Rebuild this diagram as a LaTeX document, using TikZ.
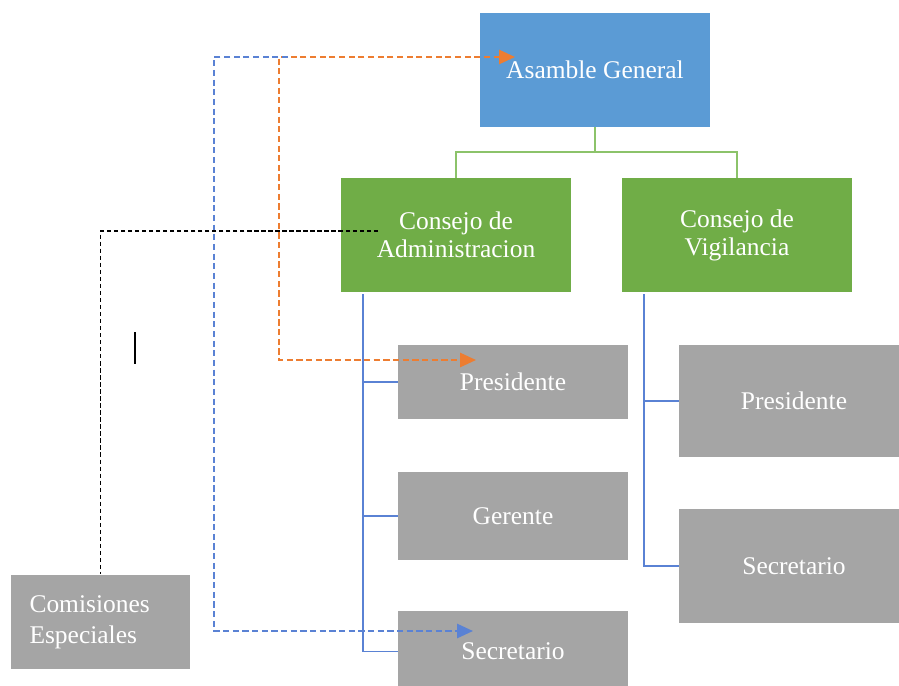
\documentclass[tikz,border=0pt]{standalone}
\usepackage{fontspec}
\setmainfont{Liberation Serif}
\usetikzlibrary{arrows.meta,positioning}

\definecolor{azul}{HTML}{5B9BD5}
\definecolor{verde}{HTML}{70AD47}
\definecolor{gris}{HTML}{A5A5A5}
\definecolor{naranja}{HTML}{ED7D31}
\definecolor{lineaazul}{HTML}{5A82D4}
\definecolor{lineaverde}{HTML}{8CC36A}

\begin{document}
\begin{tikzpicture}[
  x=0.02cm, y=-0.02cm,
  every node/.style={font=\fontsize{14.5}{16}\selectfont, text=white, inner sep=0pt},
  caja/.style={minimum width=4.6cm, align=center},
  punta/.style={-{Triangle[length=9pt,width=8pt]}}
]
  \useasboundingbox (0,0) rectangle (899,686);
  \clip (0,0) rectangle (899,686);
  % cajas
  \node[caja, fill=azul, minimum height=2.28cm] (asamblea) at (595,70) {Asamble General};
  \node[caja, fill=verde, minimum height=2.28cm] (cadmin) at (456,235) {Consejo de\\Administracion};
  \node[caja, fill=verde, minimum height=2.28cm] (cvig) at (737,235) {Consejo de\\Vigilancia};

  \node[caja, fill=gris, minimum height=1.5cm] (presA) at (513,382) {Presidente};
  \node[caja, fill=gris, minimum height=1.78cm] (gerente) at (513,516) {Gerente};
  \node[caja, fill=gris, minimum height=1.62cm] (secA) at (513,651.5) {Secretario};

  \node[caja, fill=gris, minimum height=2.24cm] (presV) at (794,401) {Presidente};
  \node[caja, fill=gris, minimum height=2.28cm] (secV) at (794,566) {Secretario};

  \node[fill=gris, minimum width=3.58cm, minimum height=1.9cm, text width=2.84cm, align=left,
        font=\fontsize{14.5}{17.6}\selectfont]
    (comisiones) at (100.5,622) {Comisiones\\Especiales};

  % lineas del organigrama
  \draw[lineaverde, line width=1.2pt] (asamblea.south) -- ++(0,25) coordinate (nudo);
  \draw[lineaverde, line width=1.2pt] (nudo) -| (cadmin.north);
  \draw[lineaverde, line width=1.2pt] (nudo) -| (cvig.north);

  \coordinate (ejeA) at (363,294);
  \draw[lineaazul, line width=1.1pt] (ejeA) |- (presA.west);
  \draw[lineaazul, line width=1.1pt] (ejeA) |- (gerente.west);
  \draw[lineaazul, line width=1.1pt] (ejeA) |- (secA.west);
  \coordinate (ejeV) at (644,294);
  \draw[lineaazul, line width=1.1pt] (ejeV) |- (presV.west);
  \draw[lineaazul, line width=1.1pt] (ejeV) |- (secV.west);

  % lineas punteadas
  \coordinate (pA) at (515,57);
  \coordinate (pP) at (476,360);
  \coordinate (pS) at (473,631);
  \coordinate (pB) at (288,57);
  \coordinate (pN) at (378,231);
  \draw[naranja, line width=1.2pt, dash pattern=on 3.5pt off 2pt,
        {Triangle[length=9pt,width=8pt]}-{Triangle[length=9pt,width=8pt]}]
    (pA) -- (279,57) -- (279,360) -- (pP);
  \draw[lineaazul, line width=1.2pt, dash pattern=on 3.5pt off 2pt, punta]
    (pB) -- (214,57) -- (214,631) -- (pS);
  \draw[black, line width=1pt, dash pattern=on 2.5pt off 1.5pt]
    (pN) -| (comisiones.north);

  \draw[black, line width=1pt] (135,332) -- (135,364);
\end{tikzpicture}
\end{document}
